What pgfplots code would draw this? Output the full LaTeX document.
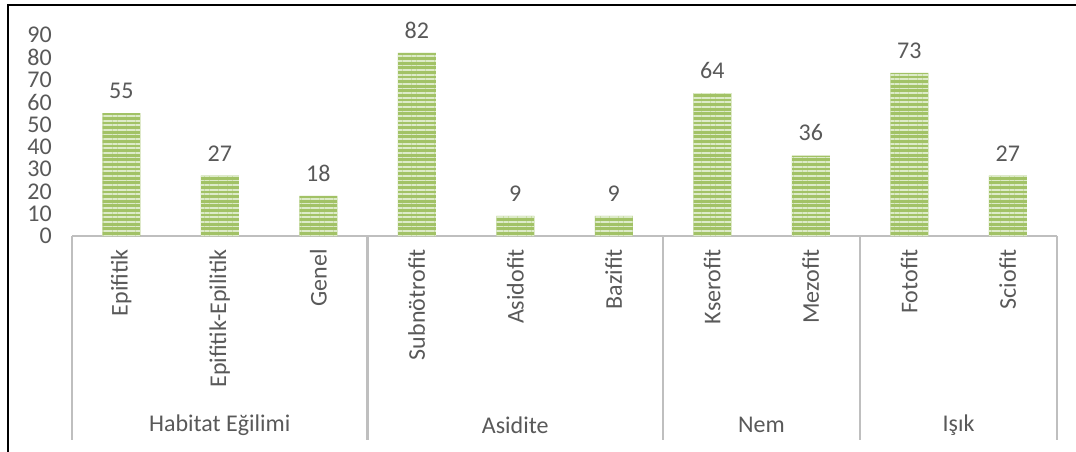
\documentclass[border=0pt]{standalone}
\usepackage{fontspec}
\setmainfont{Carlito}
\usepackage{pgfplots}
\pgfplotsset{compat=1.18}
\usetikzlibrary{patterns.meta}
\definecolor{txt}{HTML}{595959}
\definecolor{axgray}{HTML}{BFBFBF}
\definecolor{barg}{HTML}{A2C266}
\definecolor{barl}{HTML}{DDEBC9}
\newcommand{\lblfont}{\fontsize{24}{27}\selectfont}
\begin{document}
\begin{tikzpicture}[x=1pt,y=1pt]
\useasboundingbox (0,0) rectangle (1076,-452);
\draw[black, line width=2pt] (8,-452) -- (8,-5) -- (1076,-5);
\begin{axis}[
  at={(72pt,-236pt)}, anchor=south west,
  scale only axis, width=985pt, height=201pt,
  xmin=-0.5, xmax=9.5, ymin=0, ymax=90,
  clip=false,
  axis x line*=bottom, axis y line*=left,
  y axis line style={draw=none},
  x axis line style={draw=axgray, line width=2.5pt, -},
  xtick style={draw=none}, ytick style={draw=none},
  ytick={0,10,...,90},
  xtick={0,...,9},
  xticklabels={Epifitik,Epifitik-Epilitik,Genel,Subnötrofit,Asidofit,Bazifit,Kserofit,Mezofit,Fotofit,Sciofit},
  xticklabel style={rotate=90, anchor=east, inner sep=0pt, xshift=-13pt, font=\lblfont, text=txt},
  yticklabel style={anchor=east, inner sep=0pt, xshift=-20pt, font=\lblfont, text=txt},
  /pgf/number format/assume math mode=true,
  nodes near coords,
  nodes near coords style={font=\lblfont, text=txt, anchor=south, yshift=11pt},
]
\addplot[ybar, bar width=38pt, draw=none, fill=barg,
  postaction={pattern={Lines[angle=0,distance=4.6pt,line width=1.8pt]}, pattern color=barl}]
  coordinates {(0,55)(1,27)(2,18)(3,82)(4,9)(5,9)(6,64)(7,36)(8,73)(9,27)};
\pgfplotsinvokeforeach{-0.5,2.5,5.5,7.5,9.5}{
  \draw[axgray, line width=2.5pt] (axis cs:#1,0) -- ++(0pt,-204pt);
}
\node[font=\lblfont, text=txt] at (axis cs:1,0) [yshift=-189pt] {Habitat Eğilimi};
\node[font=\lblfont, text=txt] at (axis cs:4,0) [yshift=-189pt] {Asidite};
\node[font=\lblfont, text=txt] at (axis cs:6.5,0) [yshift=-189pt] {Nem};
\node[font=\lblfont, text=txt] at (axis cs:8.5,0) [yshift=-189pt] {Işık};
\end{axis}
\end{tikzpicture}
\end{document}
